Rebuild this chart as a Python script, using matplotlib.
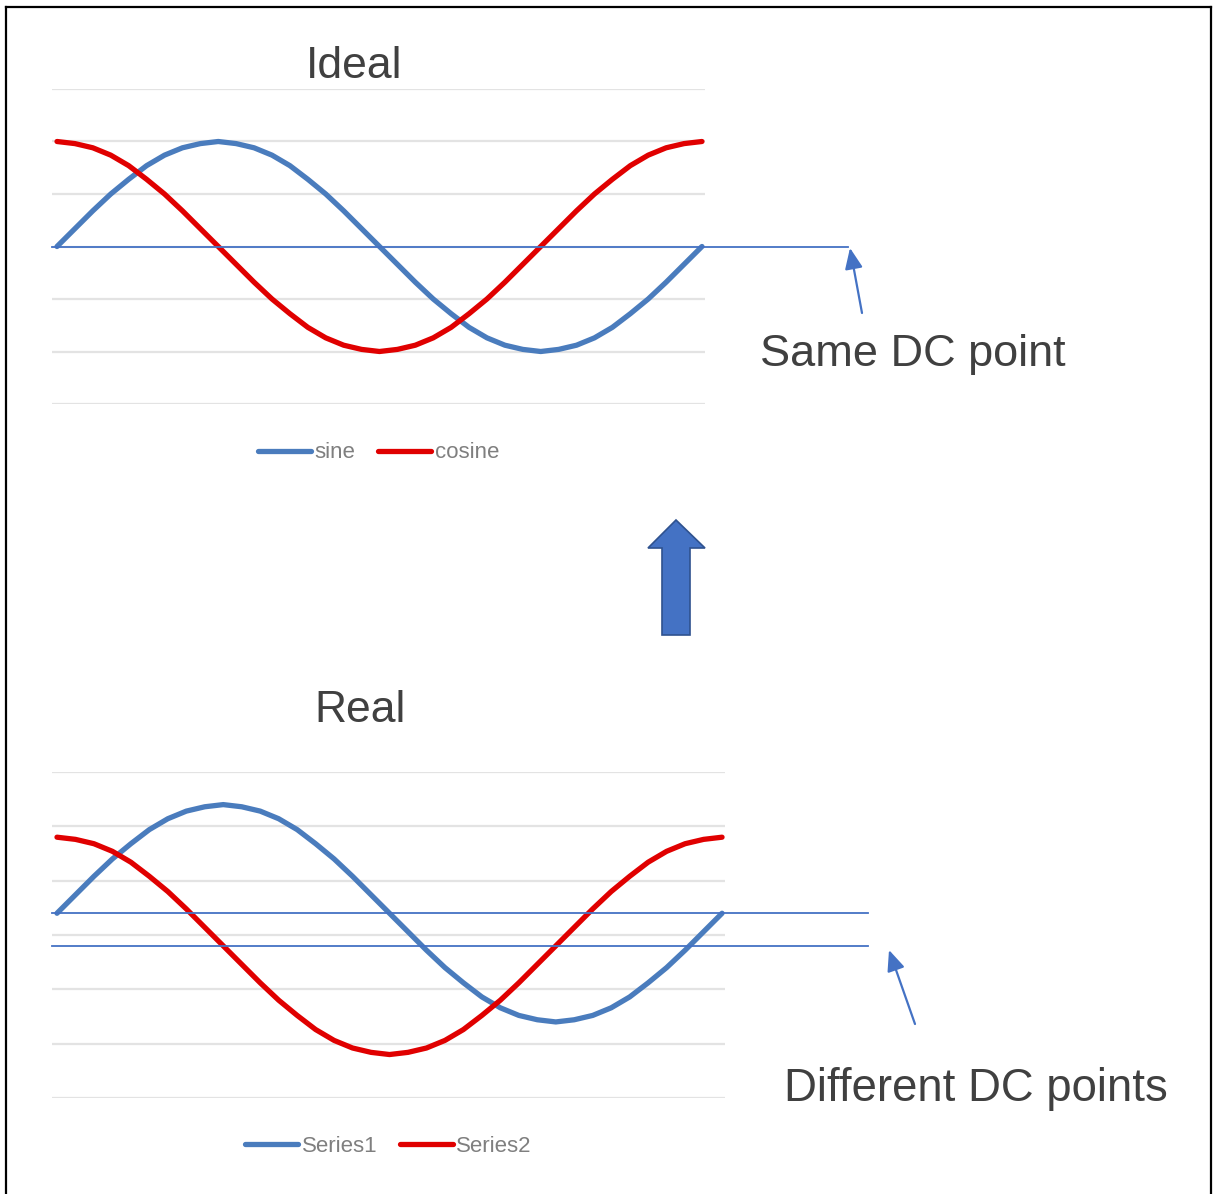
import matplotlib
matplotlib.use("Agg")
import matplotlib.pyplot as plt
from matplotlib.patches import Polygon
from matplotlib.lines import Line2D

plt.rcParams['font.family'] = ['Liberation Sans', 'DejaVu Sans']

# --- datos (muestras cada 10 grados, 0..360) ---
samples = list(range(37))
sine = [0.00, 0.17, 0.34, 0.50, 0.64, 0.77, 0.87, 0.94, 0.98, 1.00, 0.98, 0.94,
        0.87, 0.77, 0.64, 0.50, 0.34, 0.17, 0.00, -0.17, -0.34, -0.50, -0.64,
        -0.77, -0.87, -0.94, -0.98, -1.00, -0.98, -0.94, -0.87, -0.77, -0.64,
        -0.50, -0.34, -0.17, 0.00]
cosine = [1.00, 0.98, 0.94, 0.87, 0.77, 0.64, 0.50, 0.34, 0.17, 0.00, -0.17,
          -0.34, -0.50, -0.64, -0.77, -0.87, -0.94, -0.98, -1.00, -0.98, -0.94,
          -0.87, -0.77, -0.64, -0.50, -0.34, -0.17, 0.00, 0.17, 0.34, 0.50,
          0.64, 0.77, 0.87, 0.94, 0.98, 1.00]
series1 = [0.20, 0.37, 0.54, 0.70, 0.84, 0.97, 1.07, 1.14, 1.18, 1.20, 1.18,
           1.14, 1.07, 0.97, 0.84, 0.70, 0.54, 0.37, 0.20, 0.03, -0.14, -0.30,
           -0.44, -0.57, -0.67, -0.74, -0.78, -0.80, -0.78, -0.74, -0.67, -0.57,
           -0.44, -0.30, -0.14, 0.03, 0.20]
series2 = [0.90, 0.88, 0.84, 0.77, 0.67, 0.54, 0.40, 0.24, 0.07, -0.10, -0.27,
           -0.44, -0.60, -0.74, -0.87, -0.97, -1.04, -1.08, -1.10, -1.08, -1.04,
           -0.97, -0.87, -0.74, -0.60, -0.44, -0.27, -0.10, 0.07, 0.24, 0.40,
           0.54, 0.67, 0.77, 0.84, 0.88, 0.90]
dc_ideal = [0.0]
dc_real = [0.2, -0.1]
grid_levels = [-1.5, -1.0, -0.5, 0.0, 0.5, 1.0, 1.5]

W, H = 1214, 1194
BLUE = '#4A7CBD'
RED = '#E00000'
DC_BLUE = '#4472C4'
GREY_TXT = '#404040'


def px_rect(x0, y0, x1, y1):
    """Rectangulo en pixeles (origen arriba-izquierda) -> fraccion de figura."""
    return [x0 / W, 1 - y1 / H, (x1 - x0) / W, (y1 - y0) / H]


def fp(x, y):
    """Punto en pixeles (origen arriba-izquierda) -> 'figure pixels'."""
    return (x, H - y)


def draw_panel(ax, y1, y2, name1, name2, dc_levels, dc_frac, legend_y):
    for g in grid_levels:
        ax.axhline(g, color='#E3E3E3', lw=1.6, zorder=0)
    ax.plot(samples, y1, color=BLUE, lw=3.8, label=name1, solid_capstyle='round', zorder=3)
    ax.plot(samples, y2, color=RED, lw=3.8, label=name2, solid_capstyle='round', zorder=3)
    for d in dc_levels:
        ax.axhline(d, xmin=0, xmax=dc_frac, color=DC_BLUE, lw=1.3,
                   clip_on=False, zorder=4)
    ax.set_ylim(-1.5, 1.5)
    ax.axis('off')
    leg = ax.legend(loc='center', bbox_to_anchor=(0.5, legend_y), ncol=2,
                    frameon=False, fontsize=16, handlelength=2.4,
                    handletextpad=0.15, columnspacing=1.0, borderaxespad=0)
    for t in leg.get_texts():
        t.set_color('#7F7F7F')


fig = plt.figure(figsize=(W / 100, H / 100), dpi=100)

# panel superior
ax1 = fig.add_axes(px_rect(52, 89, 705, 404))
ax1.set_xlim(-0.28, 36.17)
draw_panel(ax1, sine, cosine, 'sine', 'cosine', dc_ideal,
           (848 - 52) / (705 - 52), -0.155)

# panel inferior
ax2 = fig.add_axes(px_rect(52, 772, 725, 1098))
ax2.set_xlim(-0.27, 36.16)
draw_panel(ax2, series1, series2, 'Series1', 'Series2', dc_real,
           (868 - 52) / (725 - 52), -0.148)

# titulos
fig.text(354 / W, 1 - 67 / H, 'Ideal', fontsize=32, color=GREY_TXT,
         ha='center', va='center')
fig.text(360 / W, 1 - 711 / H, 'Real', fontsize=32, color=GREY_TXT,
         ha='center', va='center')

# anotaciones
fig.text(760 / W, 1 - 354 / H, 'Same DC point', fontsize=32.5, color=GREY_TXT,
         ha='left', va='center')
fig.text(784 / W, 1 - 1089 / H, 'Different DC points', fontsize=32.8,
         color=GREY_TXT, ha='left', va='center')

arrow_kw = dict(arrowstyle='-|>,head_length=0.7,head_width=0.3',
                color=DC_BLUE, lw=1.6, mutation_scale=18, shrinkA=0, shrinkB=0)
ax1.annotate('', xy=fp(850, 248), xytext=fp(862, 313),
             xycoords='figure pixels', textcoords='figure pixels',
             arrowprops=arrow_kw, annotation_clip=False)
ax2.annotate('', xy=fp(889, 950), xytext=fp(915, 1024),
             xycoords='figure pixels', textcoords='figure pixels',
             arrowprops=arrow_kw, annotation_clip=False)

# flecha gruesa entre paneles
pts = [(662, 635), (662, 548), (648, 548), (676, 520), (705, 548), (690, 548), (690, 635)]
fig.add_artist(Polygon([(x / W, 1 - y / H) for x, y in pts], closed=True,
                       transform=fig.transFigure, facecolor='#4472C4',
                       edgecolor='#2F528F', lw=1.2))

# marco
for xs, ys in [([6, 6], [7, 1194]), ([6, 1211], [7, 7]), ([1211, 1211], [7, 1194])]:
    fig.add_artist(Line2D([x / W for x in xs], [1 - y / H for y in ys],
                          transform=fig.transFigure, color='black', lw=1.6))

fig.savefig('out.png', dpi=100, facecolor='white')
